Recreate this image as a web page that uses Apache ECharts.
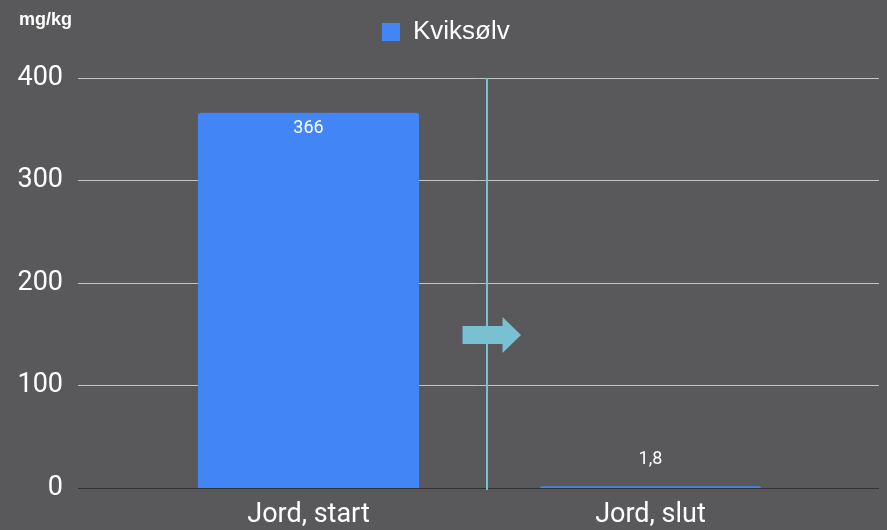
<!DOCTYPE html>
<html>
<head>
<meta charset="utf-8">
<script src="https://cdn.jsdelivr.net/npm/echarts@6/dist/echarts.min.js"></script>
<style>html,body{margin:0;padding:0;background:#59595b;}#c{width:887px;height:530px;}</style>
</head>
<body>
<div id="c"></div>
<script>
const categories = ['Jord, start', 'Jord, slut'];
const seriesName = 'Kviksølv';
const values = [366, 1.8];
const yTicks = [0, 100, 200, 300, 400];
const unitLabel = 'mg/kg';

const chart = echarts.init(document.getElementById('c'));
const font = 'Roboto, "Liberation Sans", Arial, sans-serif';
chart.setOption({
  backgroundColor: '#59595b',
  animation: false,
  title: {
    text: unitLabel, left: 14, top: 6,
    textStyle: {color: '#ffffff', fontSize: 18, fontWeight: 'bold', fontFamily: '"Liberation Sans", Arial, sans-serif'}
  },
  legend: {
    data: [seriesName], left: 382, top: 19, padding: 0, itemWidth: 18, itemHeight: 18, icon: 'rect',
    textStyle: {color: '#ffffff', fontSize: 26, fontFamily: '"Liberation Sans", Arial, sans-serif', padding: [0, 0, 0, 8]}
  },
  grid: [
    {left: 78, right: 8, top: 78, bottom: 42},
    {left: 137.5, right: 65.5, top: 78, bottom: 42}
  ],
  xAxis: [
    {type: 'value', gridIndex: 0, show: false, min: 0, max: 1},
    {type: 'category', gridIndex: 1, data: categories,
     axisLine: {show: false}, axisTick: {show: false},
     axisLabel: {color: '#ffffff', fontSize: 27, fontFamily: font, margin: 14}}
  ],
  yAxis: [
    {type: 'value', gridIndex: 0, min: yTicks[0], max: yTicks[yTicks.length - 1], interval: 100,
     axisLine: {show: false}, axisTick: {show: false},
     axisLabel: {color: '#ffffff', fontSize: 27, fontFamily: font, margin: 15},
     splitLine: {lineStyle: {color: ['#333333', '#c4c4c4', '#c4c4c4', '#c4c4c4', '#c4c4c4'], width: 1}}},
    {type: 'value', gridIndex: 1, min: yTicks[0], max: yTicks[yTicks.length - 1], show: false}
  ],
  series: [{
    name: seriesName, type: 'bar', xAxisIndex: 1, yAxisIndex: 1,
    barWidth: 221,
    itemStyle: {color: '#4285f4', borderRadius: [3, 3, 0, 0]},
    data: values.map(v => ({
      value: v,
      label: v > 50 ? {position: 'insideTop', distance: 7} : {position: 'top', distance: 18}
    })),
    label: {
      show: true, color: '#ffffff', fontSize: 18, fontFamily: font,
      formatter: p => String(p.value).replace('.', ',')
    }
  }],
  graphic: [
    {type: 'line', z: 10, shape: {x1: 487, y1: 78, x2: 487, y2: 490},
     style: {stroke: '#79c0d3', lineWidth: 2}},
    {type: 'polygon', z: 10,
     shape: {points: [[462.5, 326], [502.5, 326], [502.5, 317], [521, 335], [502.5, 353], [502.5, 344], [462.5, 344]]},
     style: {fill: '#79c0d3'}}
  ]
});
</script>
</body>
</html>
